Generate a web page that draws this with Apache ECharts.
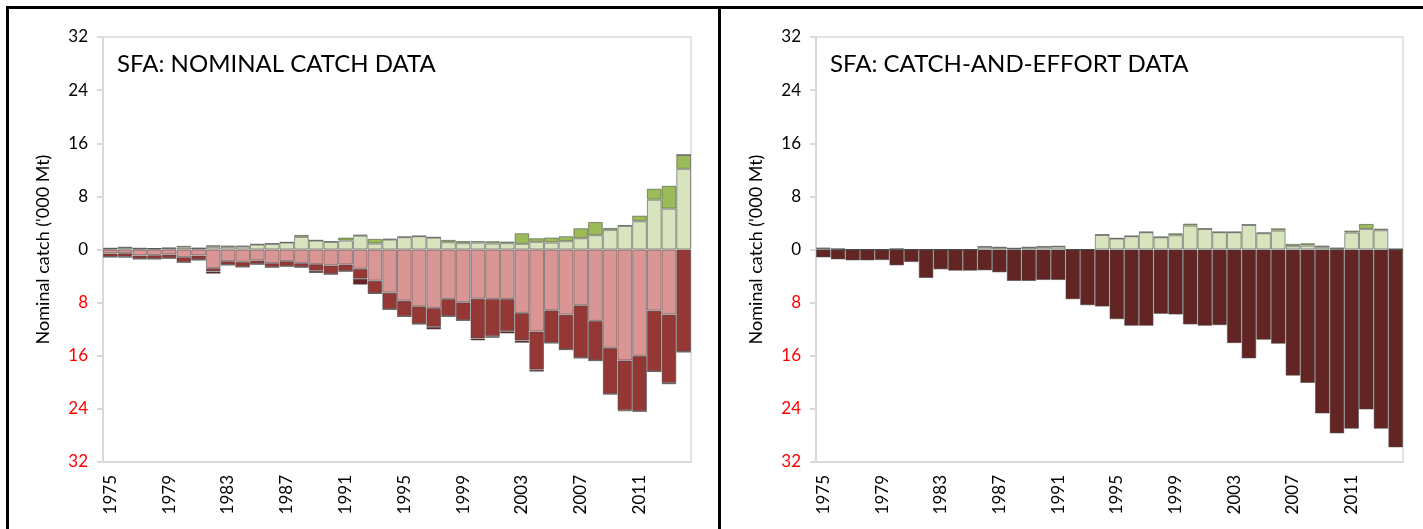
<!DOCTYPE html>
<html>
<head>
<meta charset="utf-8">
<script src="https://cdn.jsdelivr.net/npm/echarts@6/dist/echarts.min.js"></script>
<style>
  html, body { margin: 0; padding: 0; background: #fff; }
  #chart { width: 1423px; height: 529px; }
</style>
</head>
<body>
<div id="chart"></div>
<script>
// years on the x axis
const years = [];
for (let y = 1975; y <= 2014; y++) years.push(String(y));

// left panel: nominal catch data ('000 Mt), negatives go below zero
const nomLight = [0.15, 0.3, 0.15, 0.15, 0.2, 0.3, 0.2, 0.4, 0.4, 0.45, 0.75, 0.85, 1.05, 1.9, 1.35, 1.15, 1.35, 2.1, 0.9, 1.5,
  1.85, 2.0, 1.8, 1.1, 0.95, 1.05, 0.9, 0.95, 0.85, 1.15, 1.05, 1.25, 1.7, 2.15, 2.95, 3.55, 4.25, 7.5, 6.15, 12.15];
const nomDarkGreen = [0.05, 0.05, 0.05, 0, 0.05, 0.25, 0, 0.25, 0.2, 0.1, 0.05, 0.05, 0.05, 0.3, 0.05, 0.05, 0.45, 0.1, 0.7, 0.1,
  0.1, 0.05, 0.05, 0.35, 0.33, 0.2, 0.35, 0.25, 1.6, 0.55, 0.75, 0.75, 1.5, 2.0, 0.3, 0.1, 0.85, 1.65, 3.45, 2.1];
const nomPink = [-0.6, -0.55, -0.9, -0.85, -0.75, -1.15, -0.9, -2.8, -1.75, -1.85, -1.65, -2.05, -1.75, -2.05, -2.2, -2.4, -2.25, -2.9, -4.7, -6.5,
  -7.7, -8.55, -8.8, -7.45, -7.95, -7.4, -7.45, -7.45, -9.55, -12.35, -9.15, -9.8, -8.4, -10.75, -14.8, -16.7, -16.0, -9.2, -9.8, 0];
const nomRed = [-0.5, -0.55, -0.5, -0.55, -0.55, -0.75, -0.65, -0.5, -0.55, -0.75, -0.55, -0.6, -0.75, -0.6, -1.0, -1.3, -1.0, -1.5, -1.9, -2.5,
  -2.35, -2.65, -2.85, -2.6, -2.7, -6.0, -5.6, -4.85, -4.15, -5.75, -4.9, -5.25, -7.9, -5.95, -6.95, -7.5, -8.35, -9.15, -10.3, -15.4];
const nomMaroon = [-0.05, -0.1, -0.05, -0.05, -0.05, -0.05, -0.05, -0.35, -0.05, -0.05, -0.05, -0.05, -0.05, -0.05, -0.35, -0.05, -0.05, -0.9, -0.05, -0.05,
  -0.05, -0.05, -0.4, -0.05, -0.05, -0.3, -0.25, -0.35, -0.35, -0.3, -0.05, -0.05, -0.05, -0.05, -0.05, -0.15, -0.05, -0.05, -0.2, -0.05];

// right panel: catch-and-effort data
const ceLight = [0.15, 0.05, 0, 0, 0, 0.05, 0, 0, 0, 0, 0, 0.4, 0.3, 0.15, 0.3, 0.4, 0.45, 0, 0, 2.2,
  1.65, 2.0, 2.6, 1.85, 2.15, 3.6, 3.1, 2.6, 2.6, 3.7, 2.45, 2.85, 0.5, 0.6, 0.35, 0.1, 2.55, 3.1, 2.9, 0.05];
const ceDarkGreen = [0.1, 0.05, 0, 0, 0, 0.05, 0, 0, 0, 0, 0, 0.05, 0.05, 0.05, 0.05, 0.05, 0.05, 0, 0, 0.05,
  0.05, 0.05, 0.05, 0.05, 0.3, 0.3, 0.05, 0.05, 0.05, 0.05, 0.1, 0.35, 0.35, 0.35, 0.25, 0.2, 0.3, 0.75, 0.25, 0];
const ceMaroon = [-1.2, -1.5, -1.65, -1.65, -1.6, -2.4, -1.9, -4.3, -3.0, -3.2, -3.2, -3.15, -3.45, -4.75, -4.75, -4.6, -4.6, -7.5, -8.4, -8.6,
  -10.5, -11.5, -11.5, -9.7, -9.8, -11.3, -11.5, -11.4, -14.1, -16.4, -13.6, -14.2, -19.0, -20.1, -24.7, -27.7, -27.0, -24.1, -27.0, -29.8];

const yTicks = [-32, -24, -16, -8, 0, 8, 16, 24, 32];

const FONT = 'Lato, "Open Sans", sans-serif';
const edge = 'rgba(70,70,70,0.55)';

function makeX(idx) {
  return {
    type: 'category', gridIndex: idx, data: years,
    axisLine: { onZero: false, lineStyle: { color: '#d9d9d9', width: 2 } },
    axisTick: { show: false },
    axisLabel: { interval: 3, rotate: 90, margin: 13, fontSize: 17, color: '#000', fontFamily: FONT }
  };
}
function makeY(idx) {
  return {
    type: 'value', gridIndex: idx, min: yTicks[0], max: yTicks[yTicks.length - 1], interval: 8,
    name: "Nominal catch ('000 Mt)", nameLocation: 'middle', nameGap: 51,
    nameTextStyle: { fontSize: 18, color: '#000', fontFamily: FONT },
    axisLine: { show: true, lineStyle: { color: '#d9d9d9', width: 2 } },
    axisTick: { show: true, length: 6, lineStyle: { color: '#d9d9d9', width: 2 } },
    splitLine: { show: false },
    axisLabel: {
      margin: 15, fontSize: 17, fontFamily: FONT,
      formatter: v => String(Math.abs(v)),
      color: v => (v < 0 ? '#ff0000' : '#000')
    }
  };
}
function bar(name, data, color, idx) {
  return {
    name, type: 'bar', stack: 'p' + idx, xAxisIndex: idx, yAxisIndex: idx, data,
    barCategoryGap: '0%',
    itemStyle: { color, borderColor: edge, borderWidth: 1 }
  };
}

const chart = echarts.init(document.getElementById('chart'));
chart.setOption({
  animation: false,
  title: [
    { text: 'SFA: NOMINAL CATCH DATA', left: 112, top: 47, textStyle: { fontSize: 24, fontWeight: 'normal', color: '#000', fontFamily: FONT } },
    { text: 'SFA: CATCH-AND-EFFORT DATA', left: 825, top: 47, textStyle: { fontSize: 24, fontWeight: 'normal', color: '#000', fontFamily: FONT } }
  ],
  grid: [
    { left: 103, top: 37, width: 588, height: 425, show: true, borderColor: '#e3e3e3', borderWidth: 2 },
    { left: 816, top: 37, width: 587, height: 425, show: true, borderColor: '#e3e3e3', borderWidth: 2 }
  ],
  xAxis: [makeX(0), makeX(1)],
  yAxis: [makeY(0), makeY(1)],
  series: [
    bar('Light green', nomLight, '#d7e4bd', 0),
    bar('Dark green', nomDarkGreen, '#9bbb59', 0),
    bar('Pink', nomPink, '#d99694', 0),
    bar('Red', nomRed, '#953735', 0),
    bar('Maroon', nomMaroon, '#632523', 0),
    bar('Light green', ceLight, '#d7e4bd', 1),
    bar('Dark green', ceDarkGreen, '#9bbb59', 1),
    bar('Maroon', ceMaroon, '#632523', 1)
  ],
  graphic: [
    { type: 'rect', shape: { x: 6, y: 6, width: 1417, height: 3 }, style: { fill: '#000' } },
    { type: 'rect', shape: { x: 6, y: 6, width: 3, height: 523 }, style: { fill: '#000' } },
    { type: 'rect', shape: { x: 718, y: 6, width: 3, height: 523 }, style: { fill: '#000' } }
  ]
});
</script>
</body>
</html>
